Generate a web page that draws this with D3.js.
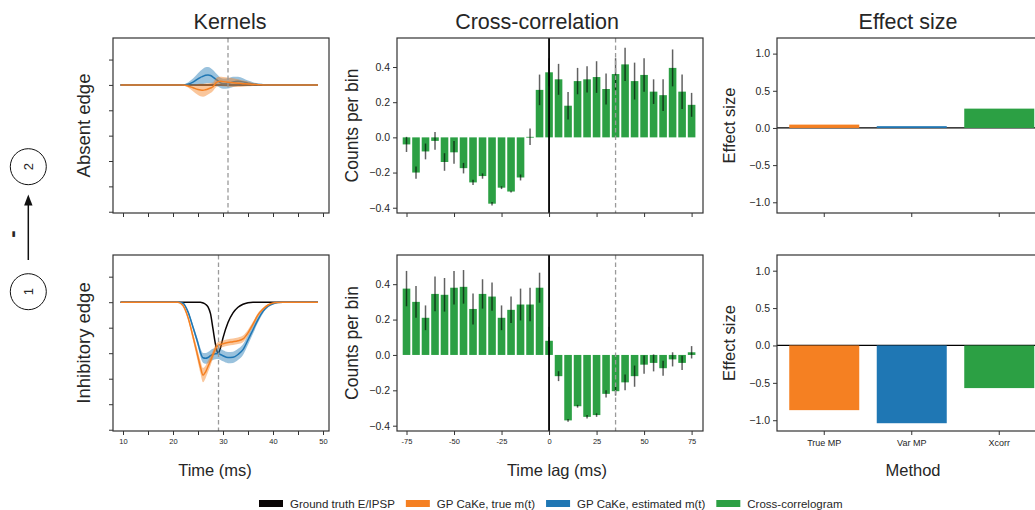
<!DOCTYPE html>
<html><head><meta charset="utf-8">
<script src="https://cdn.jsdelivr.net/npm/d3@7"></script>
<style>
body{margin:0;background:#fff;}
svg{display:block;font-family:"Liberation Sans",Arial,Helvetica,sans-serif;}
</style></head><body>
<svg id="c" width="1035" height="510"></svg>
<script>
// ---------------- DATA ----------------
const colTitles = ["Kernels", "Cross-correlation", "Effect size"];
const rowLabels = ["Absent edge", "Inhibitory edge"];

// Kernels (arbitrary units; one y tick = 1 unit)
const kernelTime = [9.5, 20, 21, 22, 23, 24, 25, 25.5, 26, 26.5, 27, 27.5, 28, 28.5, 29, 29.5, 30, 31, 32, 33, 34, 35, 36, 37, 38, 39, 40, 41, 42, 49];
const kernelXTicks = [10, 15, 20, 25, 30, 35, 40, 45, 50];
const kernelXLabels = [10, 20, 30, 40, 50];
const kernelYTicks = [1, 0, -1, -2, -3, -4, -5];

const absTruth   = [0,0,0,0,0,0,0,0,0,0,0,0,0,0,0,0,0,0,0,0,0,0,0,0,0,0,0,0,0,0];
const absTrue    = [0,0,0,0,-0.04,-0.11,-0.18,-0.2,-0.21,-0.19,-0.16,-0.12,-0.07,0.06,0.13,0.14,0.13,0.11,0.09,0.07,0.05,0.04,0.02,0.01,0,0,0,0,0,0];
const absTrueSd  = [0,0,0,0.01,0.06,0.14,0.22,0.25,0.26,0.25,0.22,0.2,0.17,0.17,0.18,0.18,0.18,0.18,0.17,0.15,0.12,0.09,0.06,0.03,0.01,0,0,0,0,0];
const absEst     = [0,0,0,0,0.03,0.11,0.24,0.3,0.34,0.38,0.39,0.37,0.31,0.23,0.16,0.08,0.05,0.06,0.12,0.14,0.12,0.07,0.04,0.02,0.01,0,0,0,0,0];
const absEstSd   = [0,0,0,0.02,0.07,0.14,0.22,0.26,0.3,0.32,0.32,0.3,0.28,0.25,0.22,0.2,0.2,0.2,0.2,0.18,0.14,0.1,0.07,0.04,0.02,0.01,0,0,0,0];

const inhTruth   = [0,0,0,0,0,0,0,0,-0.03,-0.08,-0.18,-0.45,-1.05,-1.65,-2.01,-1.79,-1.4,-0.8,-0.42,-0.2,-0.08,-0.02,0,0,0,0,0,0,0,0];
const inhTrue    = [0,0,0,-0.13,-0.6,-1.35,-2.15,-2.55,-2.86,-2.74,-2.52,-2.3,-2.05,-1.82,-1.7,-1.66,-1.63,-1.58,-1.55,-1.51,-1.44,-1.2,-0.86,-0.5,-0.27,-0.11,-0.03,-0.01,0,0];
const inhTrueSd  = [0,0,0,0.03,0.08,0.15,0.22,0.25,0.28,0.25,0.22,0.19,0.16,0.15,0.14,0.13,0.13,0.13,0.13,0.13,0.13,0.12,0.1,0.08,0.05,0.03,0.01,0,0,0];
const inhEst     = [0,0,0,-0.04,-0.38,-0.98,-1.62,-1.98,-2.18,-2.2,-2.17,-2.1,-2.05,-2.02,-2.01,-2.05,-2.1,-2.17,-2.16,-2.05,-1.86,-1.48,-1.08,-0.68,-0.36,-0.16,-0.06,-0.01,0,0];
const inhEstSd   = [0,0,0,0.02,0.06,0.1,0.14,0.17,0.19,0.21,0.22,0.22,0.22,0.22,0.22,0.22,0.22,0.22,0.22,0.22,0.21,0.19,0.16,0.12,0.08,0.05,0.03,0.01,0,0];
const kernelDelay = [31, 29.1];

// Cross-correlogram
const lags = [-75,-70,-65,-60,-55,-50,-45,-40,-35,-30,-25,-20,-15,-10,-5,0,5,10,15,20,25,30,35,40,45,50,55,60,65,70,75];
const xcAbsent    = [-0.04,-0.2,-0.08,-0.02,-0.14,-0.085,-0.175,-0.256,-0.22,-0.377,-0.286,-0.308,-0.228,0.003,0.27,0.37,0.33,0.18,0.32,0.33,0.343,0.275,0.36,0.415,0.32,0.355,0.26,0.24,0.395,0.26,0.185];
const xcAbsentErr = [0.043,0.035,0.045,0.05,0.05,0.065,0.03,0.015,0.015,0.01,0.008,0.005,0.017,0.047,0.087,0.08,0.088,0.078,0.075,0.075,0.09,0.088,0.09,0.095,0.105,0.095,0.07,0.09,0.105,0.098,0.068];
const xcInhib     = [0.375,0.3,0.21,0.345,0.34,0.38,0.385,0.26,0.345,0.33,0.21,0.255,0.285,0.285,0.38,0.08,-0.12,-0.37,-0.29,-0.35,-0.34,-0.22,-0.205,-0.155,-0.12,-0.055,-0.045,-0.075,-0.025,-0.045,0.015];
const xcInhibErr  = [0.1,0.09,0.07,0.098,0.095,0.095,0.095,0.088,0.083,0.08,0.07,0.075,0.09,0.095,0.085,0.08,0.028,0.008,0.008,0.01,0.01,0.02,0.025,0.045,0.06,0.052,0.048,0.042,0.04,0.04,0.035];
const xcXTicks = [-75, -50, -25, 0, 25, 50, 75];
const xcYTicks = [-0.4, -0.2, 0.0, 0.2, 0.4];
const xcDelay = 35;

// Effect size
const methods = ["True MP", "Var MP", "Xcorr"];
const effAbsent = [0.045, 0.024, 0.26];
const effInhib  = [-0.865, -1.04, -0.57];
const effYTicks = [-1.0, -0.5, 0.0, 0.5, 1.0];

const legendLabels = ["Ground truth E/IPSP", "GP CaKe, true m(t)", "GP CaKe, estimated m(t)", "Cross-correlogram"];

// ---------------- STYLE / LAYOUT ----------------
const COL = {black:"#0a0505", orange:"#f58022", blue:"#1f77b4", green:"#2ca044"};
const legendColors = [COL.black, COL.orange, COL.blue, COL.green];
const methodColors = [COL.orange, COL.blue, COL.green];
const SPINE = "#333";
const TXT = "#262626";

const rows = [[38, 213], [255, 431]];
const KX = [113, 329], CX = [397, 703], EX = [777, 1046.5];

const svg = d3.select("#c");
svg.append("rect").attr("width",1035).attr("height",510).attr("fill","#fff");

function frame(g, x, y) {
  g.append("rect").attr("x", x[0]).attr("y", y[0])
    .attr("width", x[1]-x[0]).attr("height", y[1]-y[0])
    .attr("fill","none").attr("stroke",SPINE).attr("stroke-width",1.2);
}
function styleAxis(sel, fs) {
  sel.select(".domain").remove();
  sel.selectAll(".tick line").attr("stroke", SPINE).attr("stroke-width", 1);
  sel.selectAll(".tick text").attr("fill", TXT).attr("font-size", fs)
     .attr("font-family", '"Liberation Sans",Arial,sans-serif');
}

// ---------------- KERNELS ----------------
const kx = d3.scaleLinear().domain([8.0, 51.2]).range(KX);
const kernelSets = [
  {truth:absTruth, tr:absTrue, trSd:absTrueSd, est:absEst, estSd:absEstSd},
  {truth:inhTruth, tr:inhTrue, trSd:inhTrueSd, est:inhEst, estSd:inhEstSd}
];
kernelSets.forEach((ks, r) => {
  const g = svg.append("g");
  const y = d3.scaleLinear().domain([-5.05, 1.85]).range([rows[r][1], rows[r][0]]);
  const idx = kernelTime.map((_, i) => i);
  const line = arr => d3.line().x(i => kx(kernelTime[i])).y(i => y(arr[i])).curve(d3.curveMonotoneX)(idx);
  const area = (m, s) => d3.area().x(i => kx(kernelTime[i]))
      .y0(i => y(m[i]-s[i])).y1(i => y(m[i]+s[i])).curve(d3.curveMonotoneX)(idx);
  g.append("path").attr("d", line(ks.truth)).attr("fill","none").attr("stroke",COL.black).attr("stroke-width",1.5);
  g.append("path").attr("d", area(ks.est, ks.estSd)).attr("fill",COL.blue).attr("opacity",0.45);
  g.append("path").attr("d", line(ks.est)).attr("fill","none").attr("stroke",COL.blue).attr("stroke-width",1.5);
  g.append("path").attr("d", area(ks.tr, ks.trSd)).attr("fill",COL.orange).attr("opacity",0.45);
  g.append("path").attr("d", line(ks.tr)).attr("fill","none").attr("stroke",COL.orange).attr("stroke-width",1.5);
  g.append("line").attr("x1",kx(kernelDelay[r])).attr("x2",kx(kernelDelay[r]))
    .attr("y1",rows[r][0]).attr("y2",rows[r][1])
    .attr("stroke","#9a9a9a").attr("stroke-width",1.3).attr("stroke-dasharray","4.5,3");
  frame(g, KX, rows[r]);
  g.append("g").attr("transform",`translate(${KX[0]},0)`)
    .call(d3.axisLeft(y).tickValues(kernelYTicks).tickSize(4).tickFormat(""))
    .call(s => styleAxis(s, 8));
  g.append("g").attr("transform",`translate(0,${rows[r][1]})`)
    .call(d3.axisBottom(kx).tickValues(kernelXTicks).tickSize(4).tickPadding(4)
      .tickFormat(d => (r === 1 && kernelXLabels.includes(d)) ? String(d) : ""))
    .call(s => styleAxis(s, 7.5));
});

// ---------------- CROSS-CORRELATION ----------------
const cx = d3.scaleLinear().domain([-80, 81]).range(CX);
const xcSets = [[xcAbsent, xcAbsentErr], [xcInhib, xcInhibErr]];
xcSets.forEach(([vals, errs], r) => {
  const g = svg.append("g");
  const y = d3.scaleLinear().domain([-0.43, 0.565]).range([rows[r][1], rows[r][0]]);
  const bw = cx(2) - cx(-2);
  g.selectAll("rect.bar").data(lags).join("rect").attr("class","bar")
    .attr("x", d => cx(d) - bw/2).attr("width", bw)
    .attr("y", (d,i) => Math.min(y(vals[i]), y(0)))
    .attr("height", (d,i) => Math.max(0.8, Math.abs(y(vals[i]) - y(0))))
    .attr("fill", COL.green);
  g.selectAll("line.err").data(lags).join("line").attr("class","err")
    .attr("x1", d => cx(d)).attr("x2", d => cx(d))
    .attr("y1", (d,i) => y(vals[i]-errs[i])).attr("y2", (d,i) => y(vals[i]+errs[i]))
    .attr("stroke","#000").attr("stroke-opacity",0.62).attr("stroke-width",1.5);
  g.append("line").attr("x1",cx(xcDelay)).attr("x2",cx(xcDelay))
    .attr("y1",rows[r][0]).attr("y2",rows[r][1])
    .attr("stroke","#9a9a9a").attr("stroke-width",1.3).attr("stroke-dasharray","4.5,3");
  g.append("line").attr("x1",cx(0)).attr("x2",cx(0))
    .attr("y1",rows[r][0]).attr("y2",rows[r][1])
    .attr("stroke","#000").attr("stroke-width",1.8);
  frame(g, CX, rows[r]);
  g.append("g").attr("transform",`translate(${CX[0]},0)`)
    .call(d3.axisLeft(y).tickValues(xcYTicks).tickSize(4).tickPadding(3).tickFormat(d3.format(".1f")))
    .call(s => styleAxis(s, 10.5));
  g.append("g").attr("transform",`translate(0,${rows[r][1]})`)
    .call(d3.axisBottom(cx).tickValues(xcXTicks).tickSize(4).tickPadding(4)
      .tickFormat(d => r === 1 ? String(d) : ""))
    .call(s => styleAxis(s, 7.5));
});

// ---------------- EFFECT SIZE ----------------
const ex = d3.scaleBand().domain(methods).range(EX).paddingInner(0.2).paddingOuter(0.14);
const effSets = [effAbsent, effInhib];
effSets.forEach((vals, r) => {
  const g = svg.append("g");
  const y = d3.scaleLinear().domain([-1.144, 1.21]).range([rows[r][1], rows[r][0]]);
  g.append("line").attr("x1",EX[0]).attr("x2",EX[1]).attr("y1",y(0)).attr("y2",y(0))
    .attr("stroke","#000").attr("stroke-width",1.2);
  g.selectAll("rect.bar").data(methods).join("rect").attr("class","bar")
    .attr("x", d => ex(d)).attr("width", ex.bandwidth())
    .attr("y", (d,i) => Math.min(y(vals[i]), y(0)))
    .attr("height", (d,i) => Math.abs(y(vals[i]) - y(0)))
    .attr("fill", (d,i) => methodColors[i]);
  frame(g, EX, rows[r]);
  g.append("g").attr("transform",`translate(${EX[0]},0)`)
    .call(d3.axisLeft(y).tickValues(effYTicks).tickSize(4).tickPadding(3).tickFormat(d3.format(".1f")))
    .call(s => styleAxis(s, 10.5));
  g.append("g").attr("transform",`translate(0,${rows[r][1]})`)
    .call(d3.axisBottom(ex).tickSize(4).tickPadding(5).tickFormat(d => r === 1 ? d : ""))
    .call(s => styleAxis(s, 9));
});

// ---------------- TEXTS ----------------
const titleX = [230, 537, 908];
colTitles.forEach((t, i) => {
  svg.append("text").attr("x", titleX[i]).attr("y", 29).attr("text-anchor","middle")
    .attr("font-size", 21.5).attr("fill", TXT).text(t);
});
const xLabels = [["Time (ms)", 215], ["Time lag (ms)", 557], ["Method", 913]];
xLabels.forEach(([t, x]) => {
  svg.append("text").attr("x", x).attr("y", 476).attr("text-anchor","middle")
    .attr("font-size", 16.5).attr("fill", TXT).text(t);
});
function vtext(t, x, y, fs, weight) {
  svg.append("text").attr("transform", `translate(${x},${y}) rotate(-90)`)
    .attr("text-anchor","middle").attr("dy","0.35em")
    .attr("font-size", fs).attr("font-weight", weight || "normal")
    .attr("fill", TXT).text(t);
}
rowLabels.forEach((t, r) => {
  const cy = (rows[r][0] + rows[r][1]) / 2;
  vtext(t, 84, cy, 18.5);
  vtext("Counts per bin", 352, cy, 17.5);
  vtext("Effect size", 729, cy, 16.5);
});

// left network diagram
const nodes = [{label:"2", y:166.7}, {label:"1", y:291.7}];
nodes.forEach(n => {
  svg.append("circle").attr("cx", 28.3).attr("cy", n.y).attr("r", 18)
    .attr("fill","none").attr("stroke","#111").attr("stroke-width",1);
  vtext(n.label, 28.8, n.y, 13);
});
svg.append("line").attr("x1",28.3).attr("x2",28.3).attr("y1",260).attr("y2",203)
  .attr("stroke","#111").attr("stroke-width",1.5);
svg.append("path").attr("d","M28.3,194.5 L32.5,205.5 L24.1,205.5 Z").attr("fill","#111");
vtext("-", 11.5, 234, 22, "bold");

// legend
let lx = 259;
legendLabels.forEach((t, i) => {
  svg.append("rect").attr("x", lx).attr("y", 500).attr("width", 24).attr("height", 7)
    .attr("fill", legendColors[i]);
  const tx = svg.append("text").attr("x", lx + 31).attr("y", 507.5)
    .attr("font-size", 11.5).attr("fill", TXT).text(t);
  lx = lx + 31 + tx.node().getComputedTextLength() + 11;
});
</script>
</body></html>
